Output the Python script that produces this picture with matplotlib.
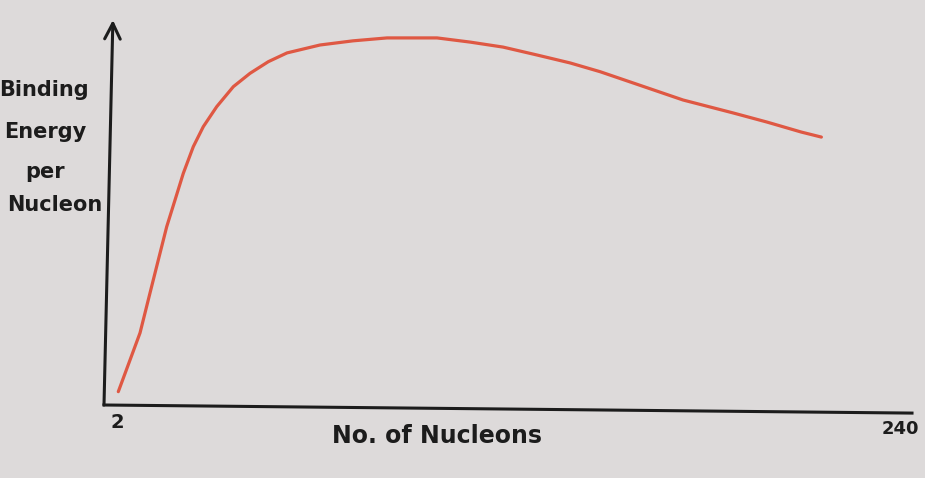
import numpy as np
import matplotlib
matplotlib.use("Agg")
from matplotlib import pyplot as plt

# values (nucleon number vs binding energy per nucleon, arbitrary MeV-like scale)
nucleons = [2.39, 5.93, 8.95, 11.97, 14.47, 17.01, 19.52, 22.02, 25.04, 28.06, 32.11, 37.13,
            42.17, 47.70, 53.34, 63.31, 73.28, 83.55, 98.65, 108.62, 118.58, 128.85, 138.82,
            147.88, 157.84, 172.95, 188.05, 198.32, 208.69, 214.73]
energy = [0.32, 1.08, 1.73, 2.69, 3.48, 4.28, 4.92, 5.56, 6.20, 6.68, 7.16, 7.64,
          7.96, 8.24, 8.45, 8.64, 8.74, 8.81, 8.81, 8.71, 8.59, 8.40, 8.21,
          8.00, 7.73, 7.32, 7.01, 6.79, 6.55, 6.43]
x_ticks = [2, 240]
x_ticklabels = ['2', '240']
ylabel_lines = ['Binding', 'Energy', 'per', 'Nucleon']

paper = '#dddada'
ink = '#1c1c1c'
red = '#df5843'
fonts = ['DejaVu Sans Condensed', 'DejaVu Sans']

W, H = 925, 478
fig = plt.figure(figsize=(W/100, H/100), dpi=100, facecolor=paper)
ax = fig.add_axes([104/W, 1-405/H, 808/W, 385/H])
ax.set_facecolor(paper)
ax.set_xlim(-1.93, 242.1)
ax.set_ylim(0, 9.24)
for s in ax.spines.values():
	s.set_visible(False)
ax.set_xticks([])
ax.set_yticks([])

ax.plot(nucleons, energy, color=red, lw=2.3, solid_capstyle='round', solid_joinstyle='round')

# hand drawn axes
ax.plot([0, 1], [0, -0.021], transform=ax.transAxes, color=ink, lw=2.2, clip_on=False)
ax.annotate('', xy=(0.011, 1.0), xytext=(0.0, 0.0), xycoords='axes fraction',
	arrowprops=dict(arrowstyle='->', lw=2.2, color=ink, mutation_scale=28, shrinkA=0, shrinkB=0))

# tick labels
tr = ax.get_xaxis_transform()
ax.text(x_ticks[0], -0.02, x_ticklabels[0], transform=tr, ha='center', va='top',
	fontsize=14, fontweight='bold', family=fonts, color=ink)
ax.text(x_ticks[1] - 1.5, -0.04, x_ticklabels[1], transform=tr, ha='center', va='top',
	fontsize=13, fontweight='bold', family=fonts, color=ink)

fig.text(437/W, 1-436/H, 'No. of Nucleons', ha='center', va='center',
	fontsize=17, fontweight='bold', family=fonts, color=ink)

ypos = [(44, 90), (45, 132), (45, 172), (55, 205)]
for line, (px, py) in zip(ylabel_lines, ypos):
	fig.text(px/W, 1-py/H, line, ha='center', va='center',
		fontsize=15, fontweight='bold', family=fonts, color=ink)

fig.savefig('out.png', dpi=100, facecolor=paper)
